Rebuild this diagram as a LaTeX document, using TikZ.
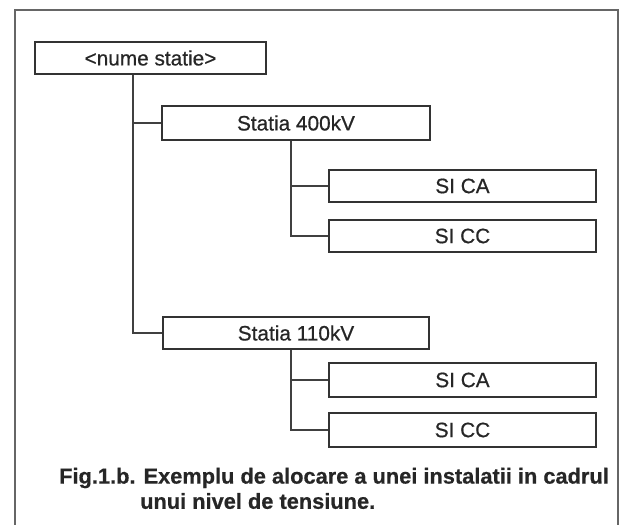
\documentclass[tikz,border=0pt]{standalone}
\usepackage{fontspec}
\setmainfont{Liberation Sans}
\newfontfamily\boxfont[FakeBold=0.6]{Liberation Sans}
\newfontfamily\capfont[FakeBold=0.6]{Liberation Sans Bold}
\begin{document}
\begin{tikzpicture}[x=1pt,y=-1pt,
  box/.style={draw=black!80, line width=1.6pt, fill=white, rectangle, inner sep=0pt,
    font=\boxfont\fontsize{20.8}{24}\selectfont, text=black!85},
  conn/.style={draw=black!75, line width=1.6pt},
  captext/.style={anchor=west, inner sep=0pt, font=\capfont\fontsize{21.8}{24}\selectfont, text=black!85}]
\useasboundingbox (0,0) rectangle (622,525);
\draw[black!60, line width=1.2pt] (15,525) -- (15,10) -- (618,10) -- (618,525);
\node[box, minimum width=231pt, minimum height=32pt] (root) at (150.5,58) {<nume statie>};
\node[box, minimum width=268pt, minimum height=34pt] (s400) at (296,123) {Statia 400kV};
\node[box, minimum width=267pt, minimum height=32pt] (ca1) at (462.5,186) {SI CA};
\node[box, minimum width=267pt, minimum height=32pt] (cc1) at (462.5,236) {SI CC};
\node[box, minimum width=266pt, minimum height=32pt] (s110) at (296,333) {Statia 110kV};
\node[box, minimum width=267pt, minimum height=34pt] (ca2) at (462.5,380) {SI CA};
\node[box, minimum width=267pt, minimum height=34pt] (cc2) at (462.5,430) {SI CC};
\draw[conn] ([xshift=-17.5pt]root.south) |- (s400.west);
\draw[conn] ([xshift=-17.5pt]root.south) |- (s110.west);
\draw[conn] ([xshift=-5pt]s400.south) |- (ca1.west);
\draw[conn] ([xshift=-5pt]s400.south) |- (cc1.west);
\draw[conn] ([xshift=-5pt]s110.south) |- (ca2.west);
\draw[conn] ([xshift=-5pt]s110.south) |- (cc2.west);
\node[captext] (c1) at (59,478) {Fig.1.b. Exemplu de alocare a unei instalatii in cadrul};
\node[captext] (c2) at (140,501) {unui nivel de tensiune.};
\end{tikzpicture}
\end{document}
